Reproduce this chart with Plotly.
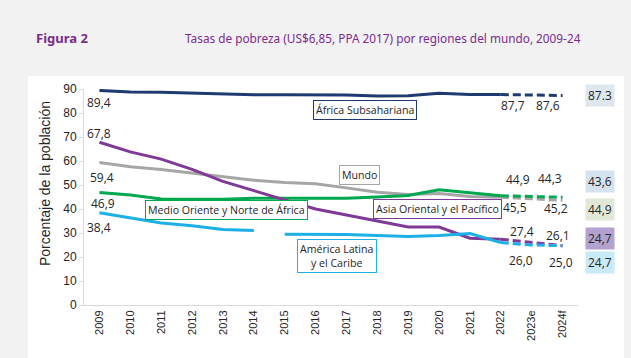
import plotly.graph_objects as go

years = ["2009", "2010", "2011", "2012", "2013", "2014", "2015", "2016",
         "2017", "2018", "2019", "2020", "2021", "2022", "2023e", "2024f"]

africa = [89.4, 88.8, 88.6, 88.2, 88.1, 87.6, 87.6, 87.6, 87.5, 87.1, 87.2, 88.2, 87.7, 87.7, 87.6, 87.3]
mundo = [59.4, 57.6, 56.5, 55.0, 53.5, 52.0, 51.0, 50.5, 48.8, 47.0, 46.0, 46.5, 45.2, 44.9, 44.3, 43.6]
mena = [46.9, 45.8, 44.2, 44.0, 44.1, 44.5, 44.4, 44.6, 44.5, 45.0, 45.6, 48.0, 46.8, 45.5, 45.2, 44.9]
asia = [67.8, 63.8, 60.8, 56.5, 51.5, 47.5, 43.8, 40.0, 37.6, 35.0, 32.5, 32.5, 27.8, 27.4, 26.1, 24.7]
latam = [38.4, 36.2, 34.2, 33.0, 31.5, 31.0, None, 29.5, 29.4, 29.0, 28.5, 29.0, 29.8, 26.0, 25.0, 24.7]
latam_2015 = 29.5

colors = {
    "africa": "#1f3a70",
    "mundo": "#a6a6a6",
    "mena": "#00a84f",
    "asia": "#7e3a96",
    "latam": "#1cb0e6",
}
DASH = "8px,4px"

fig = go.Figure()

def add_series(vals, color, name):
    fig.add_trace(go.Scatter(x=years[:14], y=vals[:14], mode="lines", name=name,
                             line=dict(color=color, width=3), hoverinfo="x+y"))
    fig.add_trace(go.Scatter(x=years[13:], y=vals[13:], mode="lines", name=name + " (proy.)",
                             line=dict(color=color, width=3, dash=DASH), hoverinfo="x+y"))

add_series(mundo, colors["mundo"], "Mundo")
add_series(mena, colors["mena"], "Medio Oriente y Norte de África")
add_series(africa, colors["africa"], "África Subsahariana")
add_series(asia, colors["asia"], "Asia Oriental y el Pacífico")

# América Latina: split in two segments (break between 2014 and 2015)
fig.add_trace(go.Scatter(x=years[:6], y=latam[:6], mode="lines",
                         line=dict(color=colors["latam"], width=3), hoverinfo="x+y"))
lat2_x = years[6:14]
lat2_y = [latam_2015] + latam[7:14]
fig.add_trace(go.Scatter(x=lat2_x, y=lat2_y, mode="lines",
                         line=dict(color=colors["latam"], width=3), hoverinfo="x+y"))
fig.add_trace(go.Scatter(x=years[13:], y=latam[13:], mode="lines",
                         line=dict(color=colors["latam"], width=3, dash=DASH), hoverinfo="x+y"))

lab_font = dict(family="Open Sans, Noto Sans, sans-serif", size=12, color="#262626")

def vlabel(i, y, text, xs=0, ys=0):
    fig.add_annotation(x=i, y=y, text=text, showarrow=False, xshift=xs, yshift=ys,
                       font=lab_font, xanchor="center", yanchor="middle")

def fmt(v):
    return f"{v:.1f}".replace(".", ",")

# start labels (index 0 = 2009)
vlabel(0, africa[0], fmt(africa[0]), 0, -12)
vlabel(0, asia[0], fmt(asia[0]), 0, 9)
vlabel(0, mundo[0], fmt(mundo[0]), 3, -15)
vlabel(0, mena[0], fmt(mena[0]), 4, -11)
vlabel(0, latam[0], fmt(latam[0]), 0, -15)

# end labels (13 = 2022, 14 = 2023e)
vlabel(13, africa[13], fmt(africa[13]), 12, -11)
vlabel(14, africa[14], fmt(africa[14]), 16, -11)
vlabel(13, mundo[13], fmt(mundo[13]), 17, 18)
vlabel(14, mundo[14], fmt(mundo[14]), 18, 20)
vlabel(13, mena[13], fmt(mena[13]), 14, -12)
vlabel(14, mena[14], fmt(mena[14]), 24, -12)
vlabel(13, asia[13], fmt(asia[13]), 21, 8)
vlabel(14, asia[14], fmt(asia[14]), 26, 7)
vlabel(13, latam[13], fmt(latam[13]), 20, -18)
vlabel(14, latam[14], fmt(latam[14]), 29, -17)

def endbox(v, text, bg, ys):
    fig.add_annotation(x=15, y=v, text=text, showarrow=False, xshift=37, yshift=ys,
                       font=lab_font, bgcolor=bg, borderpad=2, xanchor="center", yanchor="middle")

endbox(africa[15], f"{africa[15]:.1f}", "#dde7ed", 0)
endbox(mundo[15], fmt(mundo[15]), "#d5e3ef", 19)
endbox(mena[15], fmt(mena[15]), "#e2e8d8", -12)
endbox(asia[15], fmt(asia[15]), "#b3a1cf", 7)
endbox(latam[15], fmt(latam[15]), "#c9ebf9", -17)

# series name boxes (pixel positions -> paper)
L, W, T, H = 84, 494, 89, 216
def px(x):
    return (x - L) / W
def py(y):
    return (T + H - y) / H

name_font = dict(family="Open Sans, Noto Sans, sans-serif", size=10.6, color="#262626")

def namebox(cx, cy, text, color):
    fig.add_annotation(xref="paper", yref="paper", x=px(cx), y=py(cy), text=text,
                       showarrow=False, font=name_font, bgcolor="white", bordercolor=color,
                       borderwidth=1, borderpad=2, xanchor="center", yanchor="middle")

namebox(365, 110, "África Subsahariana", colors["africa"])
namebox(359, 175, "Mundo", colors["mundo"])
namebox(437, 209, "Asia Oriental y el Pacífico", colors["asia"])
namebox(226, 210, "Medio Oriente y Norte de África", colors["mena"])
namebox(337, 256, "América Latina<br>y el Caribe", colors["latam"])

# titles
fig.add_annotation(xref="paper", yref="paper", x=px(34), y=py(38), text="<b>Figura 2</b>",
                   showarrow=False, xanchor="left", yanchor="middle",
                   font=dict(family="Noto Sans, sans-serif", size=13, color="#7b2c8e"))
fig.add_annotation(xref="paper", yref="paper", x=px(183), y=py(38),
                   text="Tasas de pobreza (US$6,85, PPA 2017) por regiones del mundo, 2009-24",
                   showarrow=False, xanchor="left", yanchor="middle",
                   font=dict(family="Noto Sans, sans-serif", size=11.8, color="#7b2c8e"))

# y-axis title
fig.add_annotation(xref="paper", yref="paper", x=px(45), y=py(184),
                   text="Porcentaje de la población", textangle=-90, showarrow=False,
                   xanchor="center", yanchor="middle",
                   font=dict(family="Liberation Sans, Arial, sans-serif", size=14, color="#262626"))

# white panel
fig.add_shape(type="rect", xref="paper", yref="paper", x0=px(28), x1=px(624), y0=py(362), y1=py(76),
              fillcolor="white", line=dict(width=0), layer="below")

fig.update_layout(
    width=631, height=358,
    margin=dict(l=L, r=631 - L - W, t=T, b=358 - T - H),
    paper_bgcolor="#f2f2f2",
    plot_bgcolor="white",
    showlegend=False,
    font=dict(family="Liberation Sans, Arial, sans-serif", color="#262626"),
)
fig.update_xaxes(type="category", categoryorder="array", categoryarray=years,
                 range=[-0.5, 15.5], tickangle=-90, showgrid=False, showline=True,
                 linecolor="#d9d9d9", linewidth=1, ticks="", tickfont=dict(size=11))
fig.update_yaxes(range=[0, 90], tickvals=list(range(0, 91, 10)), showgrid=False,
                 showline=True, linecolor="#d9d9d9", ticks="outside", ticklen=4,
                 tickcolor="#d9d9d9", tickfont=dict(size=12), zeroline=False)

fig.write_html("out.html", config={"displayModeBar": False}, post_script=(
    "document.body.style.margin='0';"
    "document.body.style.background='#f2f2f2';"
    "document.body.style.overflow='hidden';"
))
